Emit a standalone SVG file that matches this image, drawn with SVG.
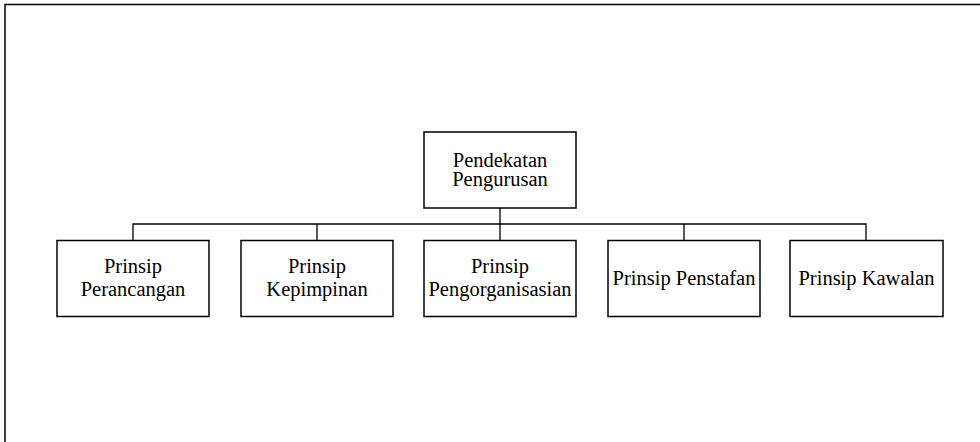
<svg xmlns="http://www.w3.org/2000/svg" width="980" height="442" viewBox="0 0 980 442">
<style>
.box{fill:#fff;stroke:#000;stroke-width:1.5}
.t{font-family:'Liberation Serif','DejaVu Serif',serif;font-size:20.5px;fill:#000;text-anchor:middle}
.c{stroke:#000;stroke-width:1.3;fill:none}
.frame{stroke:#000;stroke-width:1.5;fill:none}
</style>
<rect width="980" height="442" fill="#fff"/>
<path class="frame" d="M5,442 L5,4.5 L980,4.5"/>
<g id="connectors">
<path class="c" d="M500,208 L500,224" stroke-width="2"/>
<path class="c" d="M133,240 L133,224 L866,224 L866,240"/>
<path class="c" d="M317,224 L317,240"/>
<path class="c" d="M500,224 L500,240"/>
<path class="c" d="M684,224 L684,240"/>
</g>
<g id="root">
<rect class="box" x="424" y="132" width="152" height="76"/>
<text class="t" font-family="Liberation Serif, serif" x="500" y="166.5">Pendekatan</text>
<text class="t" font-family="Liberation Serif, serif" x="500" y="186">Pengurusan</text>
</g>
<g id="perancangan">
<rect class="box" x="57" y="240.5" width="152" height="76"/>
<text class="t" font-family="Liberation Serif, serif" x="133" y="273">Prinsip</text>
<text class="t" font-family="Liberation Serif, serif" x="133" y="296">Perancangan</text>
</g>
<g id="kepimpinan">
<rect class="box" x="241" y="240.5" width="152" height="76"/>
<text class="t" font-family="Liberation Serif, serif" x="317" y="273">Prinsip</text>
<text class="t" font-family="Liberation Serif, serif" x="317" y="296">Kepimpinan</text>
</g>
<g id="pengorganisasian">
<rect class="box" x="424" y="240.5" width="152" height="76"/>
<text class="t" font-family="Liberation Serif, serif" x="500" y="273">Prinsip</text>
<text class="t" font-family="Liberation Serif, serif" x="500" y="296">Pengorganisasian</text>
</g>
<g id="penstafan">
<rect class="box" x="608" y="240.5" width="152" height="76"/>
<text class="t" font-family="Liberation Serif, serif" x="684" y="285">Prinsip Penstafan</text>
</g>
<g id="kawalan">
<rect class="box" x="790" y="240.5" width="153" height="76"/>
<text class="t" font-family="Liberation Serif, serif" x="866.5" y="285">Prinsip Kawalan</text>
</g>
</svg>
